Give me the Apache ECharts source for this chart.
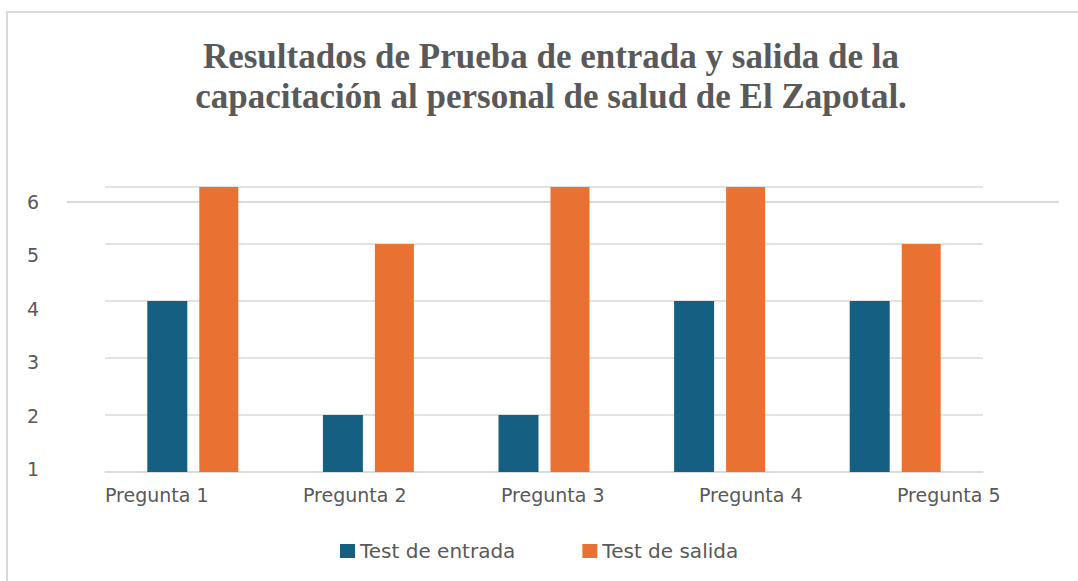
<!DOCTYPE html>
<html>
<head>
<meta charset="utf-8">
<script src="https://cdn.jsdelivr.net/npm/echarts@6/dist/echarts.min.js"></script>
<style>
  html, body { margin: 0; padding: 0; background: #ffffff; }
  #chart { width: 1078px; height: 581px; }
</style>
</head>
<body>
<div id="chart"></div>
<script>
const titleText = 'Resultados de Prueba de entrada y salida de la\ncapacitación al personal de salud de El Zapotal.';
const categories = ['Pregunta 1', 'Pregunta 2', 'Pregunta 3', 'Pregunta 4', 'Pregunta 5'];
const seriesNames = ['Test de entrada', 'Test de salida'];
const entrada = [4, 2, 2, 4, 4];
const salida = [6, 5, 6, 6, 5];
const yMin = 1;
const yMax = 6;
const yInterval = 1;

const textGray = '#595959';
const gridGray = '#d9d9d9';
const sansFont = 'DejaVu Sans';

const chart = echarts.init(document.getElementById('chart'), null, { renderer: 'svg' });

const option = {
  backgroundColor: '#ffffff',
  animation: false,
  color: ['#156082', '#E97132'],
  title: {
    text: titleText,
    left: 546,
    textAlign: 'center',
    top: 31,
    textStyle: {
      fontFamily: 'Liberation Serif',
      fontWeight: 'bold',
      fontSize: 35,
      lineHeight: 40,
      color: textGray
    }
  },
  graphic: [{
    type: 'rect',
    silent: true,
    z: -10,
    shape: { x: 7, y: 12, width: 1200, height: 700 },
    style: { fill: 'none', stroke: gridGray, lineWidth: 2 }
  }],
  legend: {
    data: seriesNames,
    left: 335,
    top: 536,
    icon: 'rect',
    itemWidth: 15,
    itemHeight: 14,
    itemGap: 67,
    textStyle: { fontFamily: sansFont, fontSize: 20, color: textGray }
  },
  grid: [
    { left: 105, top: 187, width: 878, height: 285, containLabel: false },
    { left: 67, top: 202, width: 992, height: 267, containLabel: false },
    { left: 105, top: 187, width: 792, height: 285, containLabel: false }
  ],
  xAxis: [
    {
      type: 'category', gridIndex: 0, data: categories,
      axisLine: { show: true, lineStyle: { color: gridGray, width: 1.5 } },
      axisTick: { show: false },
      axisLabel: { show: false }
    },
    {
      type: 'category', gridIndex: 1, data: categories, show: false
    },
    {
      type: 'category', gridIndex: 2, data: categories, boundaryGap: false,
      axisLine: { show: false },
      axisTick: { show: false },
      axisLabel: {
        show: true, interval: 0, align: 'left', margin: 13,
        fontFamily: sansFont, fontSize: 19, color: textGray
      }
    }
  ],
  yAxis: [
    {
      type: 'value', gridIndex: 0, min: yMin, max: yMax, interval: yInterval,
      axisLine: { show: false }, axisTick: { show: false },
      axisLabel: { show: false },
      splitLine: { show: true, lineStyle: { color: gridGray, width: 1.5 } }
    },
    {
      type: 'value', gridIndex: 1, min: yMin, max: yMax, interval: yInterval,
      axisLine: { show: false }, axisTick: { show: false },
      axisLabel: { show: true, margin: 28, fontFamily: sansFont, fontSize: 19, color: textGray },
      splitLine: {
        show: true,
        lineStyle: {
          color: ['rgba(0,0,0,0)', 'rgba(0,0,0,0)', 'rgba(0,0,0,0)', 'rgba(0,0,0,0)', 'rgba(0,0,0,0)', gridGray],
          width: 2
        }
      }
    },
    {
      type: 'value', gridIndex: 2, min: yMin, max: yMax, interval: yInterval, show: false,
      splitLine: { show: false }
    }
  ],
  series: [
    {
      name: seriesNames[0], type: 'bar', xAxisIndex: 0, yAxisIndex: 0,
      data: entrada, barWidth: 40, barGap: '30%', clip: true, z: 3
    },
    {
      name: seriesNames[1], type: 'bar', xAxisIndex: 0, yAxisIndex: 0,
      data: salida, barWidth: 39, barGap: '30%', clip: true, z: 3
    }
  ]
};

chart.setOption(option);
</script>
</body>
</html>
